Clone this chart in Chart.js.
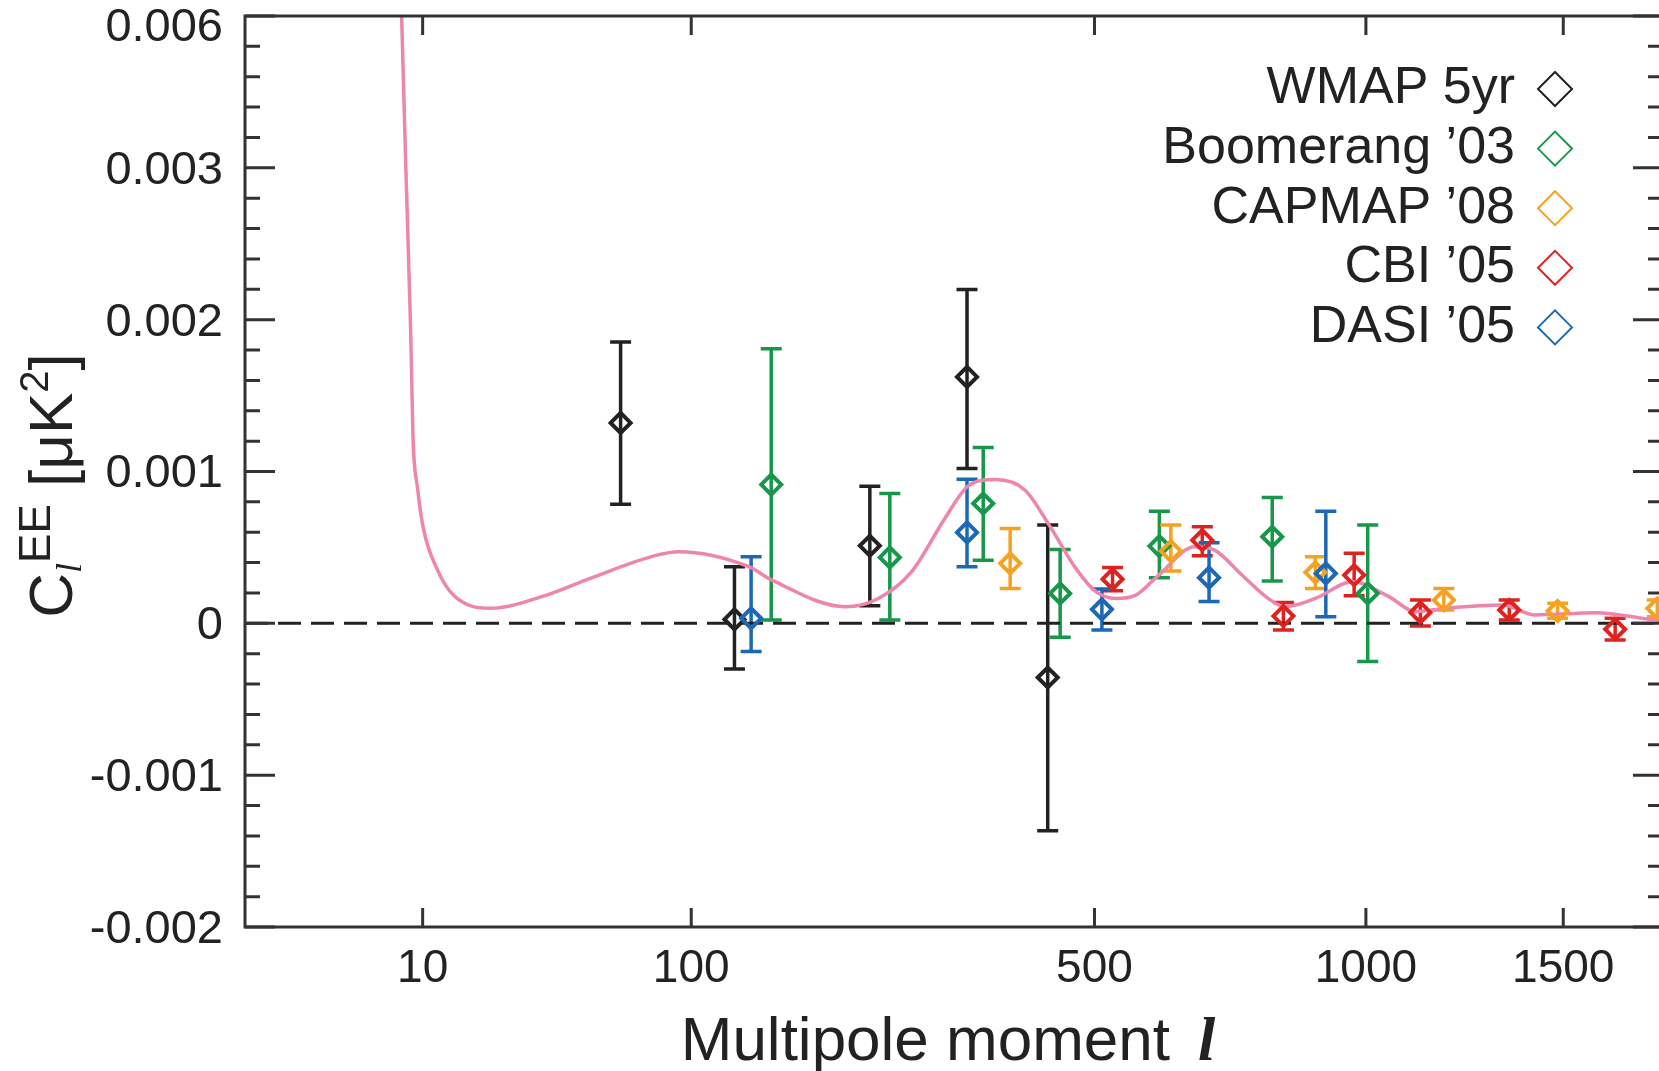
<!DOCTYPE html>
<html lang="en">
<head>
  <meta charset="UTF-8">
  <title>EE polarization power spectrum</title>
  <script src="https://cdn.jsdelivr.net/npm/chart.js"></script>
  <style>
    html, body {
      margin: 0;
      padding: 0;
      background: #fff;
      overflow: hidden;
    }
    #wrap {
      position: absolute;
      left: 0;
      top: 0;
      width: 1700px;   /* a bit wider than the window: right frame falls off, as in the original */
      height: 1071px;
    }
  </style>
</head>
<body>
  <div id="wrap"><canvas id="eeChart"></canvas></div>

  <script>
    // ---- data (C_l in uK^2) ----
    const wmapL  = [65, 126, 232, 333, 434];
    const wmapCl = [1.32e-3, 0.026e-3, 0.511e-3, 1.623e-3, -0.357e-3];
    const wmapLo = [0.785e-3, -0.301e-3, 0.116e-3, 1.020e-3, -1.366e-3];
    const wmapHi = [1.853e-3, 0.373e-3, 0.903e-3, 2.199e-3, 0.647e-3];

    const boomL  = [151, 251, 352, 451, 601, 804, 1004];
    const boomCl = [0.914e-3, 0.434e-3, 0.789e-3, 0.197e-3, 0.509e-3, 0.570e-3, 0.197e-3];
    const boomLo = [0.022e-3, 0.022e-3, 0.416e-3, -0.092e-3, 0.301e-3, 0.278e-3, -0.252e-3];
    const boomHi = [1.809e-3, 0.855e-3, 1.158e-3, 0.487e-3, 0.739e-3, 0.829e-3, 0.647e-3];

    const capmapL  = [385, 620, 891, 1183, 1484, 1782];
    const capmapCl = [0.395e-3, 0.476e-3, 0.336e-3, 0.153e-3, 0.081e-3, 0.099e-3];
    const capmapLo = [0.230e-3, 0.344e-3, 0.230e-3, 0.088e-3, 0.033e-3, 0.044e-3];
    const capmapHi = [0.625e-3, 0.647e-3, 0.439e-3, 0.230e-3, 0.132e-3, 0.153e-3];

    const cbiL  = [527, 674, 826, 974, 1126, 1351, 1652];
    const cbiCl = [0.291e-3, 0.548e-3, 0.048e-3, 0.318e-3, 0.072e-3, 0.088e-3, -0.039e-3];
    const cbiLo = [0.215e-3, 0.445e-3, -0.044e-3, 0.182e-3, -0.018e-3, 0.022e-3, -0.110e-3];
    const cbiHi = [0.368e-3, 0.636e-3, 0.138e-3, 0.461e-3, 0.153e-3, 0.153e-3, 0.033e-3];

    const dasiL  = [137, 333, 511, 686, 913];
    const dasiCl = [0.033e-3, 0.599e-3, 0.092e-3, 0.301e-3, 0.329e-3];
    const dasiLo = [-0.186e-3, 0.373e-3, -0.044e-3, 0.143e-3, 0.044e-3];
    const dasiHi = [0.439e-3, 0.949e-3, 0.226e-3, 0.531e-3, 0.739e-3];

    // best-fit model curve
    const theoryL = [6.8, 7.3, 7.8, 8.4, 8.7, 9.3, 10.1, 12.1, 14.9, 22.3,
      37.6, 52.6, 81.8, 93, 135, 151.5, 210, 240, 273, 308,
      333, 351, 367, 404, 436, 473, 502, 532, 563, 600,
      661, 696, 746, 796, 829, 891, 970, 1052, 1114, 1188,
      1333, 1422, 1594, 1777, 1800];
    const theoryCl = [9.0e-3, 6.0e-3, 3.0e-3, 1.92e-3, 1.22e-3, 0.89e-3, 0.625e-3, 0.362e-3, 0.186e-3, 0.099e-3,
      0.186e-3, 0.296e-3, 0.449e-3, 0.472e-3, 0.375e-3, 0.285e-3, 0.110e-3, 0.164e-3, 0.342e-3, 0.691e-3,
      0.899e-3, 0.943e-3, 0.947e-3, 0.877e-3, 0.647e-3, 0.362e-3, 0.209e-3, 0.164e-3, 0.186e-3, 0.318e-3,
      0.505e-3, 0.482e-3, 0.318e-3, 0.164e-3, 0.110e-3, 0.164e-3, 0.274e-3, 0.176e-3, 0.077e-3, 0.099e-3,
      0.120e-3, 0.055e-3, 0.070e-3, 0.022e-3, 0.020e-3];

    const zeroLineL = [0, 1800];

    // ---- axes ----
    const xTicks = [10, 100, 500, 1000, 1500];
    const xTickLabels = ['10', '100', '500', '1000', '1500'];
    const yMajorTicks = [-0.002, -0.001, 0, 0.001, 0.002, 0.003, 0.006];
    const yTickLabels = ['-0.002', '-0.001', '0', '0.001', '0.002', '0.003', '0.006'];
    const yMinorTicks = [-0.0018, -0.0016, -0.0014, -0.0012, -0.0008, -0.0006, -0.0004, -0.0002,
      0.0002, 0.0004, 0.0006, 0.0008, 0.0012, 0.0014, 0.0016, 0.0018,
      0.0022, 0.0024, 0.0026, 0.0028, 0.0036, 0.0042, 0.0048, 0.0054];

    const X_POWER = 0.4;     // x axis is linear in l^0.4
    const Y_BREAK = 0.003;   // y axis squeezed 3x above this
    const Y_SQUEEZE = 3;
    const Y_MAX = 0.006;

    const colors = {
      wmap: '#222222',
      boom: '#17974a',
      capmap: '#f5a21f',
      cbi: '#dd2320',
      dasi: '#1c68b5',
      theory: '#ef85aa'
    };

    // l^0.4 axis
    class PowerScale extends Chart.LinearScale {
      static id = 'power';
      static defaults = Chart.LinearScale.defaults;
      getPixelForValue(value) {
        const t0 = Math.pow(this.min, X_POWER), t1 = Math.pow(this.max, X_POWER);
        const t = Math.pow(Math.max(value, 0), X_POWER);
        return this.getPixelForDecimal((t - t0) / (t1 - t0));
      }
      getValueForPixel(pixel) {
        const t0 = Math.pow(this.min, X_POWER), t1 = Math.pow(this.max, X_POWER);
        return Math.pow(t0 + this.getDecimalForPixel(pixel) * (t1 - t0), 1 / X_POWER);
      }
    }

    // linear axis with a compressed top section
    const yWarp = v => v <= Y_BREAK ? v : Y_BREAK + (v - Y_BREAK) / Y_SQUEEZE;
    const yUnwarp = t => t <= Y_BREAK ? t : Y_BREAK + (t - Y_BREAK) * Y_SQUEEZE;
    class BrokenScale extends Chart.LinearScale {
      static id = 'broken';
      static defaults = Chart.LinearScale.defaults;
      getPixelForValue(value) {
        const t0 = yWarp(this.min), t1 = yWarp(this.max);
        return this.getPixelForDecimal((yWarp(value) - t0) / (t1 - t0));
      }
      getValueForPixel(pixel) {
        const t0 = yWarp(this.min), t1 = yWarp(this.max);
        return yUnwarp(t0 + this.getDecimalForPixel(pixel) * (t1 - t0));
      }
    }
    Chart.register(PowerScale, BrokenScale);

    const pts = (xs, ys) => xs.map((x, i) => ({ x: x, y: ys[i] }));

    const series = [
      { label: 'WMAP 5yr',      color: colors.wmap,   l: wmapL,   cl: wmapCl,   lo: wmapLo,   hi: wmapHi },
      { label: 'Boomerang ’03', color: colors.boom,   l: boomL,   cl: boomCl,   lo: boomLo,   hi: boomHi },
      { label: 'CAPMAP ’08',    color: colors.capmap, l: capmapL, cl: capmapCl, lo: capmapLo, hi: capmapHi },
      { label: 'CBI ’05',       color: colors.cbi,    l: cbiL,    cl: cbiCl,    lo: cbiLo,    hi: cbiHi },
      { label: 'DASI ’05',      color: colors.dasi,   l: dasiL,   cl: dasiCl,   lo: dasiLo,   hi: dasiHi }
    ];

    // error bars, drawn under the markers
    const errorBars = {
      id: 'errorBars',
      beforeDatasetsDraw(chart) {
        const { ctx, chartArea, scales: { x, y } } = chart;
        ctx.save();
        ctx.beginPath();
        ctx.rect(chartArea.left, chartArea.top, chartArea.right - chartArea.left, chartArea.bottom - chartArea.top);
        ctx.clip();
        ctx.lineWidth = 3.5;
        series.forEach(s => {
          ctx.strokeStyle = s.color;
          s.l.forEach((l, i) => {
            const px = x.getPixelForValue(l);
            const yl = y.getPixelForValue(s.lo[i]);
            const yh = y.getPixelForValue(s.hi[i]);
            ctx.beginPath();
            ctx.moveTo(px, yl); ctx.lineTo(px, yh);
            ctx.moveTo(px - 10.5, yl); ctx.lineTo(px + 10.5, yl);
            ctx.moveTo(px - 10.5, yh); ctx.lineTo(px + 10.5, yh);
            ctx.stroke();
          });
        });
        ctx.restore();
      }
    };

    // frame, inward ticks, legend and axis titles
    const decorations = {
      id: 'decorations',
      afterDraw(chart) {
        const { ctx, chartArea: a, scales: { x, y } } = chart;
        ctx.save();
        ctx.strokeStyle = '#333';
        ctx.lineWidth = 3;
        ctx.strokeRect(a.left, a.top, a.right - a.left, a.bottom - a.top);

        ctx.beginPath();
        x.ticks.forEach(t => {
          const px = x.getPixelForValue(t.value);
          ctx.moveTo(px, a.bottom); ctx.lineTo(px, a.bottom - 19);
          ctx.moveTo(px, a.top); ctx.lineTo(px, a.top + 19);
        });
        y.ticks.forEach(t => {
          const py = y.getPixelForValue(t.value);
          const len = yMajorTicks.includes(t.value) ? 30 : 15;
          ctx.moveTo(a.left, py); ctx.lineTo(a.left + len, py);
          ctx.moveTo(a.right, py); ctx.lineTo(a.right - len, py);
        });
        ctx.stroke();

        // legend: text right-aligned, diamond on the right
        ctx.textAlign = 'right';
        ctx.textBaseline = 'middle';
        ctx.font = '52px "Liberation Sans", Arial, sans-serif';
        series.forEach((s, i) => {
          const rowY = a.top + 73 + i * 59.6;
          ctx.fillStyle = '#222';
          ctx.fillText(s.label, a.right - 148, rowY);
          ctx.fillStyle = '#fff';
          ctx.strokeStyle = s.color;
          ctx.lineWidth = 2;
          Chart.helpers.drawPoint(ctx, { pointStyle: 'rectRot', radius: 17, borderWidth: 2, rotation: 0 }, a.right - 108, rowY);
        });

        // x title
        ctx.fillStyle = '#222';
        ctx.textBaseline = 'alphabetic';
        ctx.textAlign = 'left';
        const mainFont = '62px "Liberation Sans", Arial, sans-serif';
        const ellFont = 'italic bold 62px "Liberation Serif", serif';
        ctx.font = mainFont;
        const wMain = ctx.measureText('Multipole moment').width;
        ctx.font = ellFont;
        const wEll = ctx.measureText('l').width;
        const gap = 28;
        const xs = (a.left + a.right) / 2 - 6 - (wMain + gap + wEll) / 2;
        ctx.font = mainFont;
        ctx.fillText('Multipole moment', xs, 1060);
        ctx.font = ellFont;
        ctx.fillText('l', xs + wMain + gap, 1060);

        // y title: C_l^EE [uK^2]
        const parts = [
          { t: 'C', f: '62px "Liberation Sans", Arial, sans-serif', dy: 0 },
          { t: 'l', f: 'italic 36px "Liberation Serif", serif', dy: 9 },
          { t: 'EE', f: '44px "Liberation Sans", Arial, sans-serif', dy: -22 },
          { t: ' [μK', f: '62px "Liberation Sans", Arial, sans-serif', dy: 0 },
          { t: '2', f: '40px "Liberation Sans", Arial, sans-serif', dy: -24 },
          { t: ']', f: '62px "Liberation Sans", Arial, sans-serif', dy: 0 }
        ];
        let total = 0;
        parts.forEach(p => { ctx.font = p.f; p.w = ctx.measureText(p.t).width; total += p.w; });
        ctx.translate(72, (a.top + a.bottom) / 2 + 14);
        ctx.rotate(-Math.PI / 2);
        let cx = -total / 2;
        parts.forEach(p => {
          ctx.font = p.f;
          ctx.fillText(p.t, cx, p.dy);
          cx += p.w;
        });
        ctx.restore();
      }
    };

    const scatterSet = (s, order) => ({
      type: 'scatter',
      label: s.label,
      data: pts(s.l, s.cl),
      showLine: false,
      pointStyle: 'rectRot',
      pointRadius: 10,
      pointHoverRadius: 10,
      pointBorderWidth: 4,
      pointBorderColor: s.color,
      pointBackgroundColor: 'rgba(0,0,0,0)',
      order: order
    });

    new Chart(document.getElementById('eeChart'), {
      type: 'line',
      data: {
        datasets: [
          {
            label: 'zero',
            data: pts(zeroLineL, [0, 0]),
            borderColor: '#222',
            borderWidth: 3,
            borderDash: [23, 10],
            pointRadius: 0,
            order: 20
          },
          {
            label: 'model',
            data: pts(theoryL, theoryCl),
            borderColor: colors.theory,
            borderWidth: 3.5,
            cubicInterpolationMode: 'monotone',
            pointRadius: 0,
            order: 10
          },
          ...series.map((s, i) => scatterSet(s, 5 - i))
        ]
      },
      options: {
        responsive: true,
        maintainAspectRatio: false,
        animation: false,
        devicePixelRatio: 1,
        layout: { padding: { top: 16, right: 37, left: 0, bottom: 0 } },
        plugins: {
          legend: { display: false },
          tooltip: { enabled: false }
        },
        scales: {
          x: {
            type: 'power',
            min: 0,
            max: 1800,
            bounds: 'data',
            grid: { display: false, drawTicks: false },
            border: { display: false },
            afterBuildTicks: axis => { axis.ticks = xTicks.map(v => ({ value: v })); },
            afterFit: axis => { axis.height = 144; axis.paddingLeft = 0; axis.paddingRight = 0; },
            ticks: {
              autoSkip: false,
              maxRotation: 0,
              padding: 15,
              color: '#222',
              font: { family: '"Liberation Sans", Arial, sans-serif', size: 46 },
              callback: v => xTickLabels[xTicks.indexOf(v)] ?? ''
            }
          },
          y: {
            type: 'broken',
            min: -0.002,
            max: Y_MAX,
            bounds: 'data',
            grid: { display: false, drawTicks: false },
            border: { display: false },
            afterBuildTicks: axis => { axis.ticks = yMajorTicks.concat(yMinorTicks).map(v => ({ value: v })); },
            afterFit: axis => { axis.width = 245; axis.paddingTop = 0; axis.paddingBottom = 0; },
            ticks: {
              autoSkip: false,
              padding: 22,
              labelOffset: 3,
              color: '#222',
              // the top label sits a little below the frame edge, as in the original
              font: c => ({
                family: '"Liberation Sans", Arial, sans-serif',
                size: 47,
                lineHeight: c.tick && c.tick.value === Y_MAX ? 0.38 : 1.2
              }),
              callback: v => {
                const k = yMajorTicks.indexOf(v);
                if (k < 0) return '';
                return v === Y_MAX ? ['', yTickLabels[k]] : yTickLabels[k];
              }
            }
          }
        }
      },
      plugins: [errorBars, decorations]
    });
  </script>
</body>
</html>
